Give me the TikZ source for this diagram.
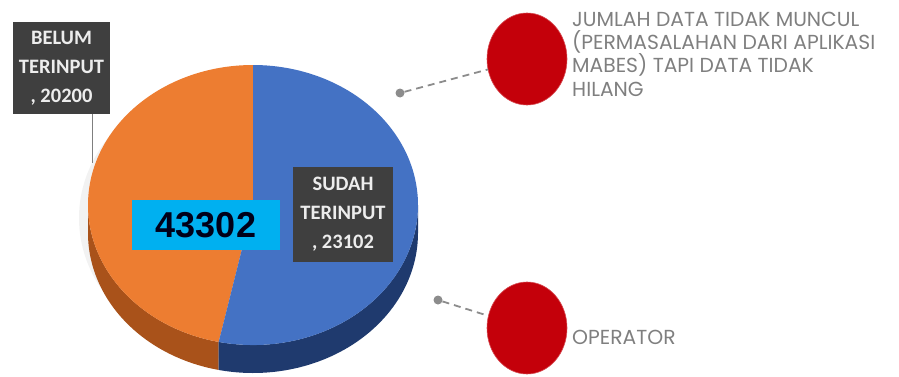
\documentclass[tikz,border=0pt]{standalone}
\usepackage{fontspec}
\setmainfont{Carlito}
\newfontfamily\legendfont{Poppins}
\newfontfamily\numfont{Liberation Sans}
\usetikzlibrary{shapes.geometric, positioning}
\definecolor{pieorange}{HTML}{ED7D31}
\definecolor{pieblue}{HTML}{4472C4}
\definecolor{sideorange}{HTML}{A9521A}
\definecolor{sideblue}{HTML}{1F3A6E}
\definecolor{boxgrey}{HTML}{3F3F3F}
\definecolor{boxtext}{HTML}{EDEDED}
\definecolor{totalcyan}{HTML}{00B0F0}
\definecolor{markred}{HTML}{C4000A}
\definecolor{legendgrey}{HTML}{7F7F7F}
\begin{document}
\begin{tikzpicture}[x=1pt, y=1pt,
  lblbox/.style={fill=boxgrey, text=boxtext, font=\bfseries\fontsize{20.5}{29}\selectfont,
    align=center, minimum width=97pt, minimum height=92pt, inner sep=0pt},
  redmark/.style={ellipse, fill=markred, draw=markred!70!white, line width=0.6pt,
    minimum width=80pt, minimum height=92pt, inner sep=0pt},
  dotmark/.style={circle, fill=legendgrey!90, minimum size=9pt, inner sep=0pt},
  dashline/.style={legendgrey!90, line width=1.8pt, dash pattern=on 7pt off 5pt},
  legend/.style={text=legendgrey, font=\legendfont\fontsize{20.3}{23.2}\selectfont,
    align=left, inner sep=0pt}]
  \useasboundingbox (0,0) rectangle (899,376);
  % shadow
  \fill[black!5] (246,158) ellipse[x radius=167, y radius=142];
  % pie sides
  \fill[sideorange] (253,171) ++(180:165 and 140) arc[start angle=180, end angle=258, x radius=165, y radius=140]
    -- ++(0,-28) arc[start angle=258, end angle=180, x radius=165, y radius=140] -- cycle;
  \fill[sideblue] (253,171) ++(258:165 and 140) arc[start angle=258, end angle=360, x radius=165, y radius=140]
    -- ++(0,-28) arc[start angle=360, end angle=258, x radius=165, y radius=140] -- cycle;
  % pie top
  \fill[pieorange] (253,171) -- ++(90:165 and 140) arc[start angle=90, end angle=258, x radius=165, y radius=140] -- cycle;
  \fill[pieblue] (253,171) -- ++(258:165 and 140) arc[start angle=258, end angle=450, x radius=165, y radius=140] -- cycle;
  % labels
  \node[lblbox] (belum) at (61.5,308) {BELUM\\TERINPUT\\, 20200};
  \coordinate (belumpt) at (92,213);
  \draw[legendgrey, line width=1pt] (belum.south -| belumpt) -- (belumpt);
  \node[lblbox, minimum width=100pt, minimum height=95pt] (sudah) at (343,161.5) {SUDAH\\TERINPUT\\, 23102};
  \node[fill=totalcyan, minimum width=148pt, minimum height=50pt, inner sep=0pt,
    font=\numfont\bfseries\fontsize{36}{36}\selectfont, text=black!90!blue] (total) at (206,151) {43302};
  % legend
  \node[redmark] (redtop) at (527,317) {};
  \node[redmark] (redbot) at (527,48) {};
  \node[dotmark] (dottop) at (400,283) {};
  \node[dotmark] (dotbot) at (438,76) {};
  \draw[dashline] (dottop) -- (redtop);
  \draw[dashline] (dotbot) -- (redbot);
  \node[legend, anchor=north west] (txttop) at (572,364) {JUMLAH DATA TIDAK MUNCUL\\(PERMASALAHAN DARI APLIKASI\\MABES) TAPI DATA TIDAK\\HILANG};
  \node[legend, anchor=west] (txtbot) at (572,39) {OPERATOR};
\end{tikzpicture}
\end{document}
